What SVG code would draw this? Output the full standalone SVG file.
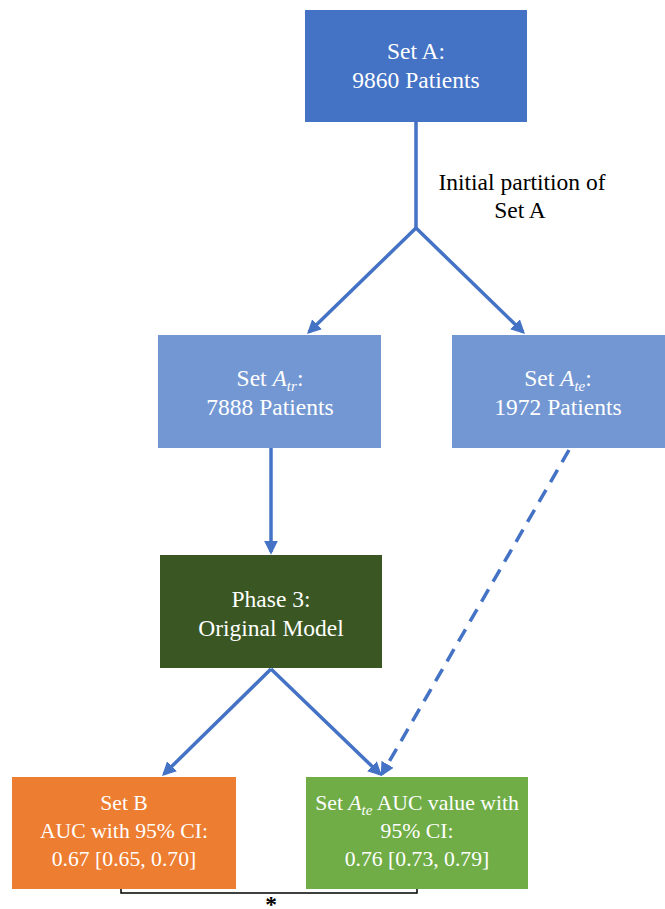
<svg xmlns="http://www.w3.org/2000/svg" width="665" height="909" viewBox="0 0 665 909">
<style>
text{font-family:'Liberation Serif','DejaVu Serif',serif;font-size:23.5px;text-anchor:middle}
.w{fill:#fff}
.k{fill:#000}
.b{font-size:21.7px}
.m{font-style:italic}
.s{font-size:15px;font-style:italic}
.c{stroke:#4472C4;stroke-width:3.5;fill:none}
.d{stroke-dasharray:14,9}
</style>
<defs>
<marker id="ah" viewBox="0 0 10 10" refX="8" refY="5" markerWidth="4" markerHeight="4" orient="auto" markerUnits="strokeWidth">
<path d="M0,0 L10,5 L0,10 z" fill="#4472C4"/>
</marker>
</defs>
<rect width="665" height="909" fill="#fff"/>
<g id="connectors">
<polyline class="c" points="416,122 416,228"/>
<line class="c" x1="416" y1="228" x2="309" y2="332" marker-end="url(#ah)"/>
<line class="c" x1="416" y1="228" x2="523" y2="332" marker-end="url(#ah)"/>
<line class="c" x1="271" y1="448" x2="271" y2="552" marker-end="url(#ah)"/>
<line class="c" x1="271" y1="669" x2="164" y2="774" marker-end="url(#ah)"/>
<line class="c" x1="271" y1="669" x2="380" y2="774" marker-end="url(#ah)"/>
<line class="c d" x1="569" y1="450" x2="382" y2="774" marker-end="url(#ah)"/>
<polyline points="121,889 121,893 417,893 417,889" fill="none" stroke="#000" stroke-width="1.5"/>
<text class="k" x="271" y="912" font-size="22" font-weight="bold">*</text>
<text class="k" x="522" y="190">Initial partition of</text>
<text class="k" x="520" y="218">Set A</text>
</g>
<g id="setA">
<rect x="305" y="10" width="222" height="112" fill="#4472C4"/>
<text class="w" x="416" y="59">Set A:</text>
<text class="w" x="416" y="88">9860 Patients</text>
</g>
<g id="setAtr">
<rect x="158" y="335" width="223" height="113" fill="#7397D3"/>
<text class="w" x="270" y="386">Set <tspan class="m">A</tspan><tspan class="s" dy="5">tr</tspan><tspan dy="-5">:</tspan></text>
<text class="w" x="270" y="415">7888 Patients</text>
</g>
<g id="setAte">
<rect x="452" y="335" width="213" height="113" fill="#7397D3"/>
<text class="w" x="558" y="386">Set <tspan class="m">A</tspan><tspan class="s" dy="5">te</tspan><tspan dy="-5">:</tspan></text>
<text class="w" x="558" y="415">1972 Patients</text>
</g>
<g id="phase3">
<rect x="160" y="555" width="222" height="113" fill="#3A5723"/>
<text class="w" x="271" y="607">Phase 3:</text>
<text class="w" x="271" y="636">Original Model</text>
</g>
<g id="setB">
<rect x="12" y="777" width="224" height="112" fill="#ED7D31"/>
<text class="w b" x="124" y="810">Set B</text>
<text class="w b" x="124" y="838">AUC with 95% CI:</text>
<text class="w b" x="124" y="866">0.67 [0.65, 0.70]</text>
</g>
<g id="setAteAUC">
<rect x="306" y="777" width="222" height="112" fill="#70AD47"/>
<text class="w b" x="417" y="810">Set <tspan class="m">A</tspan><tspan class="s" dy="5">te</tspan><tspan dy="-5"> AUC value with</tspan></text>
<text class="w b" x="417" y="838">95% CI:</text>
<text class="w b" x="417" y="866">0.76 [0.73, 0.79]</text>
</g>
</svg>
